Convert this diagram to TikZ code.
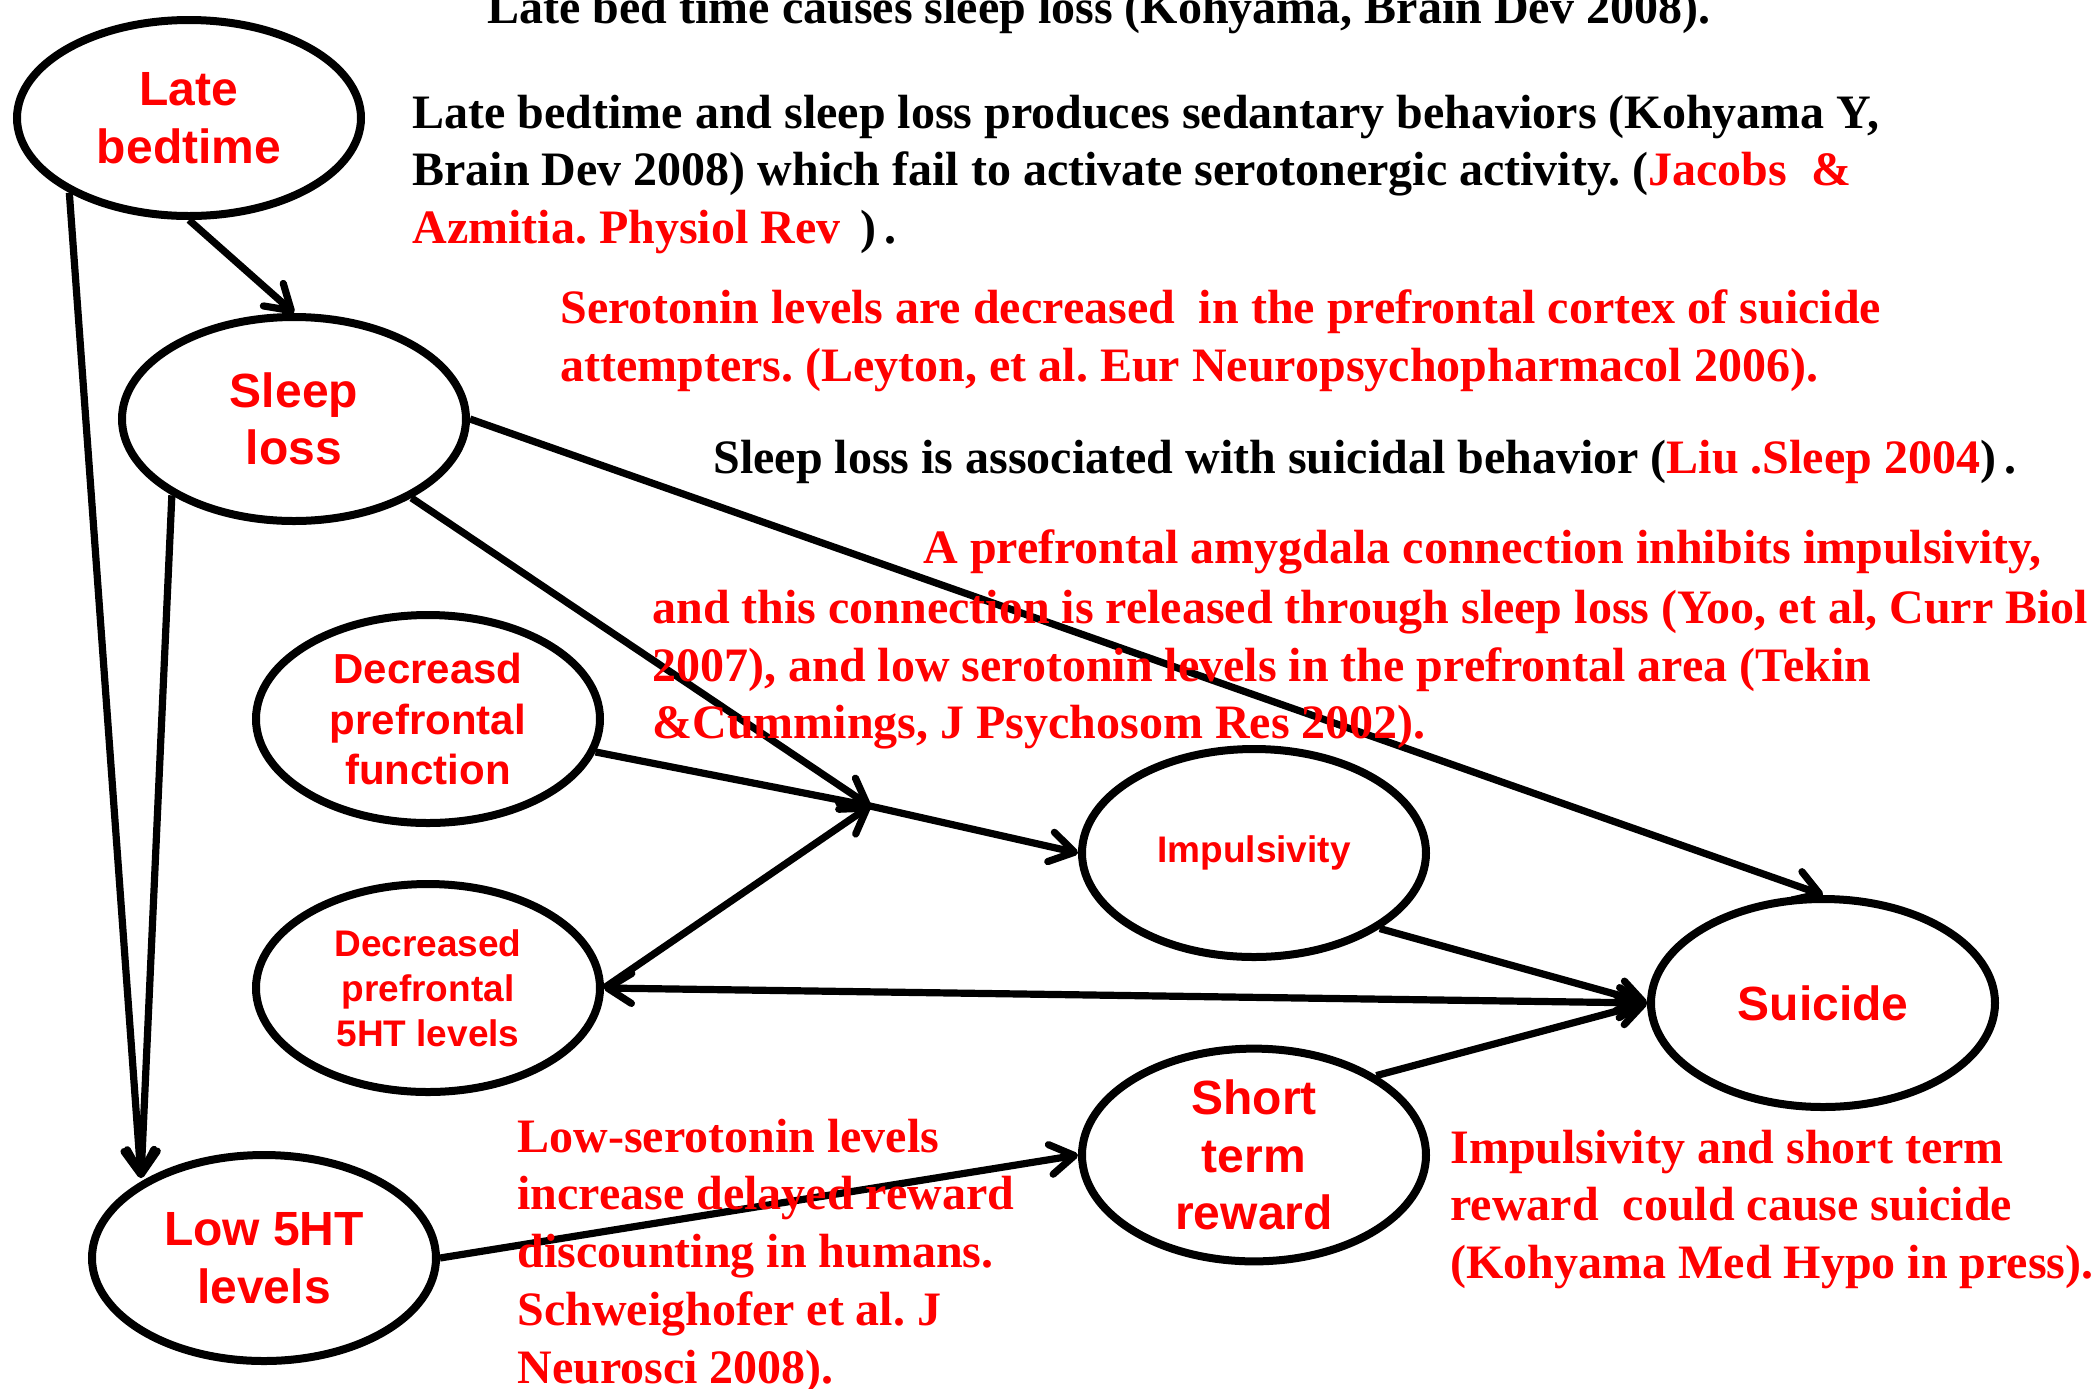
\documentclass[tikz,border=0pt]{standalone}
\usepackage{fontspec}
\setmainfont{Liberation Serif}
\setsansfont{Liberation Sans}
\usetikzlibrary{shapes.geometric,arrows.meta}
\frenchspacing
\begin{document}
\begin{tikzpicture}[x=0.5pt,y=-0.5pt,
  ell/.style={ellipse, draw, line width=4pt, minimum width=172pt, minimum height=102pt, inner sep=0pt, align=center, text=red, font=\sffamily\bfseries\fontsize{24}{28.8}\selectfont},
  tip/.tip={Straight Barb[length=12pt,width=15pt,round]},
  arr/.style={line width=3.6pt, -tip},
  arrb/.style={line width=3.6pt, tip-tip},
  txt/.style={anchor=base west, inner sep=0pt, font=\bfseries\fontsize{24}{28.8}\selectfont},
  rtxt/.style={txt, text=red},
]
\useasboundingbox (0,0) rectangle (2099,1388);

% nodes
\node[ell, minimum height=98pt] (late) at (189,118) {Late\\bedtime};
\node[ell] (sleep) at (294,419) {Sleep\\loss};
\node[ell, minimum height=104pt, font=\sffamily\bfseries\fontsize{21}{25.4}\selectfont] (dpf) at (428,719) {Decreasd\\prefrontal\\function};
\node[ell, minimum height=104pt, font=\sffamily\bfseries\fontsize{18.5}{22.4}\selectfont] (dht) at (428,988) {Decreased\\prefrontal\\5HT levels};
\node[ell, minimum height=104pt, font=\sffamily\bfseries\fontsize{18.5}{22.4}\selectfont] (imp) at (1254,853) {Impulsivity};
\node[ell, minimum height=104pt] (sui) at (1823,1003) {Suicide};
\node[ell, minimum height=104pt] (str) at (1254,1155) {Short\\term\\reward};
\node[ell, minimum height=103pt] (low) at (264,1258) {Low 5HT\\levels};

\coordinate (J) at (870,806);
\coordinate (P) at (141,1178);

% connectors
\draw[arr] (late.south) -- (sleep.north);
\draw[arr] (late.212) -- (P);
\draw[arr] (sleep.212) -- (P);
\draw[arr] (sleep.east) -- (sui.north);
\draw[arr] (sleep) -- (J);
\draw[arr] (dpf) -- (J) -- (imp.west);
\draw[arr] (dht.east) -- (J);
\draw[arrb] (dht.east) -- (sui.west);
\draw[arr] (imp.-31) -- (sui.west);
\draw[arr] (str.33) -- (sui.west);
\draw[arr] (low.east) -- (str.west);

% texts
\node[txt] (t1) at (487,23) {Late bed time causes sleep loss (Kohyama, Brain Dev 2008).};
\node[txt] (t2a) at (412,128) {Late bedtime and sleep loss produces sedantary behaviors (Kohyama Y,};
\node[txt] (t2b) at (412,185) {Brain Dev 2008) which fail to activate serotonergic activity. (\textcolor{red}{Jacobs\ \ \&}};
\node[txt] (t2c) at (412,243) {\textcolor{red}{Azmitia. Physiol Rev} \,)\,.};

\node[rtxt] (t3a) at (560,323) {Serotonin levels are decreased\ \ in the prefrontal cortex of suicide};
\node[rtxt] (t3b) at (560,381) {attempters. (Leyton, et al. Eur Neuropsychopharmacol 2006).};

\node[txt] (t4) at (713,473) {Sleep loss is associated with suicidal behavior (\textcolor{red}{Liu .Sleep 2004})\,.};

\node[rtxt] (t5a) at (923,563) {A prefrontal amygdala connection inhibits impulsivity,};
\node[rtxt] (t5b) at (652,623) {and this connection is released through sleep loss (Yoo, et al, Curr Biol};
\node[rtxt] (t5c) at (652,681) {2007), and low serotonin levels in the prefrontal area (Tekin};
\node[rtxt] (t5d) at (652,738) {\&Cummings, J Psychosom Res 2002).};

\node[rtxt] (t6a) at (517,1152) {Low-serotonin levels};
\node[rtxt] (t6b) at (517,1209) {increase delayed reward};
\node[rtxt] (t6c) at (517,1267) {discounting in humans.};
\node[rtxt] (t6d) at (517,1325) {Schweighofer et al. J};
\node[rtxt] (t6e) at (517,1383) {Neurosci 2008).};

\node[rtxt] (t7a) at (1450,1163) {Impulsivity and short term};
\node[rtxt] (t7b) at (1450,1220) {reward\ \ could cause suicide};
\node[rtxt] (t7c) at (1450,1278) {(Kohyama Med Hypo in press).};
\end{tikzpicture}
\end{document}
